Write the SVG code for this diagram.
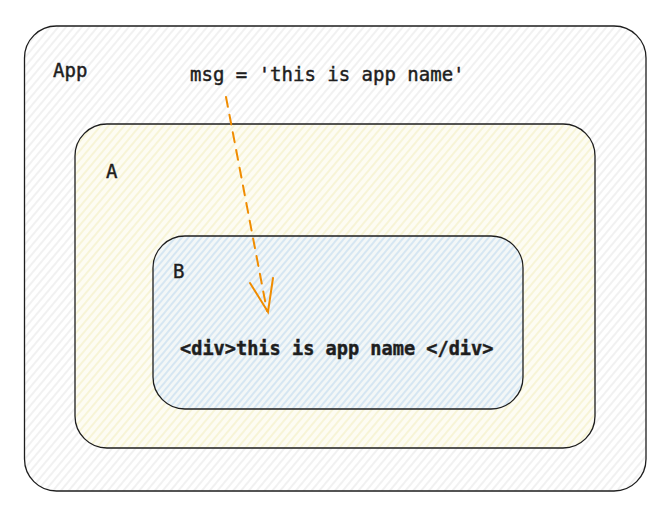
<svg xmlns="http://www.w3.org/2000/svg" width="672" height="518" viewBox="0 0 672 518">
<defs>
<pattern id="hGray" patternUnits="userSpaceOnUse" width="6" height="6" patternTransform="rotate(40)"><rect width="6" height="6" fill="#ffffff"/><line x1="2" y1="0" x2="2" y2="6" stroke="#e4e4e4" stroke-width="1"/></pattern>
<pattern id="hYellow" patternUnits="userSpaceOnUse" width="6" height="6" patternTransform="rotate(40)"><rect width="6" height="6" fill="#fdfcf3"/><line x1="2" y1="0" x2="2" y2="6" stroke="#f4efc4" stroke-width="1.2"/></pattern>
<pattern id="hBlue" patternUnits="userSpaceOnUse" width="5" height="5" patternTransform="rotate(40)"><rect width="5" height="5" fill="#f3f7f7"/><line x1="2" y1="0" x2="2" y2="5" stroke="#c6def0" stroke-width="1.3"/></pattern>
</defs>
<style>
.box{stroke:#1e1e1e;stroke-width:1.3}
.lbl{font-family:"DejaVu Sans Mono","Liberation Mono",monospace;fill:#1e1e1e;stroke:#1e1e1e;stroke-width:0.45}
.conn{stroke:#f08c00;stroke-width:2;fill:none;stroke-linecap:round}
</style>
<rect width="672" height="518" fill="#ffffff"/>
<g id="app">
<rect class="box" x="24.5" y="26" width="621.5" height="465" rx="32" fill="url(#hGray)" stroke-width="1.8"/>
<text class="lbl" x="53" y="77" font-size="19">App</text>
<text class="lbl" x="190" y="81" font-size="19">msg = 'this is app name'</text>
</g>
<g id="a">
<rect class="box" x="75" y="124" width="520" height="324" rx="32" fill="url(#hYellow)"/>
<text class="lbl" x="106" y="178" font-size="19">A</text>
</g>
<g id="b">
<rect class="box" x="153" y="236" width="370" height="173" rx="32" fill="url(#hBlue)"/>
<text class="lbl" x="173" y="278" font-size="19">B</text>
<text class="lbl" x="180" y="355" font-size="18.6" font-weight="bold" stroke-width="0">&lt;div&gt;this is app name &lt;/div&gt;</text>
</g>
<g id="connectors">
<path class="conn" d="M226 97 L267 311" stroke-dasharray="10 8"/>
<path class="conn" d="M250 283 L268 312 L273 278"/>
</g>
</svg>
